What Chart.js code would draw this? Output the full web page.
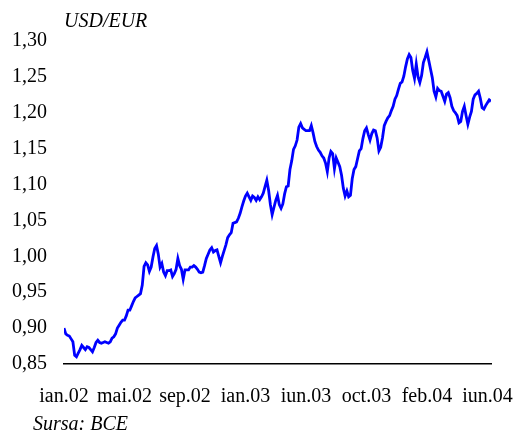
<!DOCTYPE html>
<html>
<head>
<meta charset="utf-8">
<script src="https://cdn.jsdelivr.net/npm/chart.js@4.4.1/dist/chart.umd.min.js"></script>
<style>
  html, body { margin: 0; padding: 0; background: #fff; }
  #wrap { position: relative; width: 517px; height: 438px; }
  #c { position: absolute; left: 0; top: 0; }
  .note { position: absolute; font-family: 'Liberation Serif', 'Times New Roman', serif; font-style: italic; color: #000; white-space: nowrap; }
  #unit { left: 64px; top: 9px; font-size: 20px; }
  #src { left: 33px; top: 412px; font-size: 20px; }
</style>
</head>
<body>
<div id="wrap">
  <canvas id="c" width="517" height="438"></canvas>
  <div class="note" id="unit">USD/EUR</div>
  <div class="note" id="src">Sursa: BCE</div>
</div>
<script>
// Half-weekly USD/EUR values, Jan 2002 - Jun 2004
const usdEur = [
  0.900, 0.892, 0.890, 0.889, 0.885, 0.881, 0.862, 0.860, 0.865, 0.870,
  0.876, 0.873, 0.870, 0.874, 0.873, 0.870, 0.867, 0.873, 0.880, 0.883,
  0.880, 0.879, 0.880, 0.881, 0.880, 0.879, 0.881, 0.886, 0.888, 0.892,
  0.900, 0.904, 0.908, 0.911, 0.911, 0.917, 0.925, 0.925, 0.931, 0.937,
  0.942, 0.944, 0.946, 0.948, 0.960, 0.986, 0.991, 0.988, 0.979, 0.985,
  0.999, 1.011, 1.015, 1.003, 0.985, 0.990, 0.978, 0.973, 0.980, 0.980,
  0.981, 0.972, 0.976, 0.982, 0.997, 0.987, 0.982, 0.968, 0.981, 0.981,
  0.981, 0.985, 0.985, 0.987, 0.985, 0.982, 0.978, 0.977, 0.978, 0.987,
  0.997, 1.003, 1.009, 1.012, 1.006, 1.008, 1.009, 1.000, 0.991, 1.000,
  1.008, 1.016, 1.026, 1.030, 1.033, 1.046, 1.047, 1.048, 1.053, 1.060,
  1.069, 1.077, 1.084, 1.088, 1.083, 1.078, 1.084, 1.082, 1.078, 1.083,
  1.079, 1.083, 1.088, 1.097, 1.106, 1.092, 1.072, 1.058, 1.068, 1.078,
  1.085, 1.072, 1.067, 1.073, 1.087, 1.097, 1.098, 1.121, 1.133, 1.149,
  1.154, 1.162, 1.180, 1.185, 1.179, 1.177, 1.175, 1.175, 1.175, 1.182,
  1.172, 1.160, 1.153, 1.148, 1.145, 1.140, 1.137, 1.130, 1.118, 1.137,
  1.146, 1.143, 1.122, 1.137, 1.131, 1.125, 1.113, 1.095, 1.084, 1.091,
  1.083, 1.085, 1.108, 1.121, 1.125, 1.136, 1.147, 1.150, 1.164, 1.175,
  1.179, 1.170, 1.162, 1.171, 1.176, 1.175, 1.165, 1.147, 1.152, 1.165,
  1.182, 1.188, 1.193, 1.196, 1.203, 1.209, 1.219, 1.224, 1.233, 1.241,
  1.243, 1.251, 1.264, 1.275, 1.281, 1.277, 1.259, 1.248, 1.268, 1.250,
  1.242, 1.252, 1.270, 1.277, 1.285, 1.273, 1.261, 1.249, 1.230, 1.222,
  1.234, 1.231, 1.230, 1.223, 1.216, 1.226, 1.228, 1.221, 1.209, 1.203,
  1.200, 1.196, 1.186, 1.188, 1.202, 1.209, 1.196, 1.184, 1.194, 1.202,
  1.219, 1.225, 1.227, 1.230, 1.220, 1.207, 1.205, 1.210, 1.214, 1.218,
  1.216
];
const tickLabels = ['ian.02', 'mai.02', 'sep.02', 'ian.03', 'iun.03', 'oct.03', 'feb.04', 'iun.04'];
const pointsPerLabel = 34;
const yMin = 0.85, yMax = 1.30, yStep = 0.05;

const points = usdEur.map((v, i) => ({ x: i, y: v }));
const serif = "'Liberation Serif', 'Times New Roman', serif";

new Chart(document.getElementById('c'), {
  type: 'line',
  data: {
    datasets: [{
      data: points,
      borderColor: '#0000FF',
      borderWidth: 2.8,
      pointRadius: 0,
      tension: 0,
      fill: false
    }]
  },
  options: {
    responsive: false,
    animation: false,
    events: [],
    layout: { padding: { top: 41, right: 26, bottom: 0, left: 0 } },
    plugins: { legend: { display: false }, tooltip: { enabled: false }, title: { display: false } },
    scales: {
      x: {
        type: 'linear',
        min: 0,
        max: usdEur.length - 1,
        afterBuildTicks: axis => {
          axis.ticks = tickLabels.map((_, i) => ({ value: i * pointsPerLabel }));
        },
        afterFit: s => { s.height = 74; s.paddingLeft = 0; s.paddingRight = 0; },
        grid: { display: false, drawTicks: false },
        border: { display: true, color: '#000', width: 1.5 },
        ticks: {
          autoSkip: false,
          maxRotation: 0,
          padding: 21,
          color: '#000',
          font: { family: serif, size: 20 },
          callback: v => tickLabels[Math.round(v / pointsPerLabel)]
        }
      },
      y: {
        type: 'linear',
        min: yMin,
        max: yMax,
        afterFit: s => { s.width = 64; s.paddingTop = 0; s.paddingBottom = 0; },
        grid: { display: false, drawTicks: false },
        border: { display: false },
        ticks: {
          stepSize: yStep,
          padding: 17,
          color: '#000',
          font: { family: serif, size: 20 },
          callback: v => v.toFixed(2).replace('.', ',')
        }
      }
    }
  }
});
</script>
</body>
</html>
